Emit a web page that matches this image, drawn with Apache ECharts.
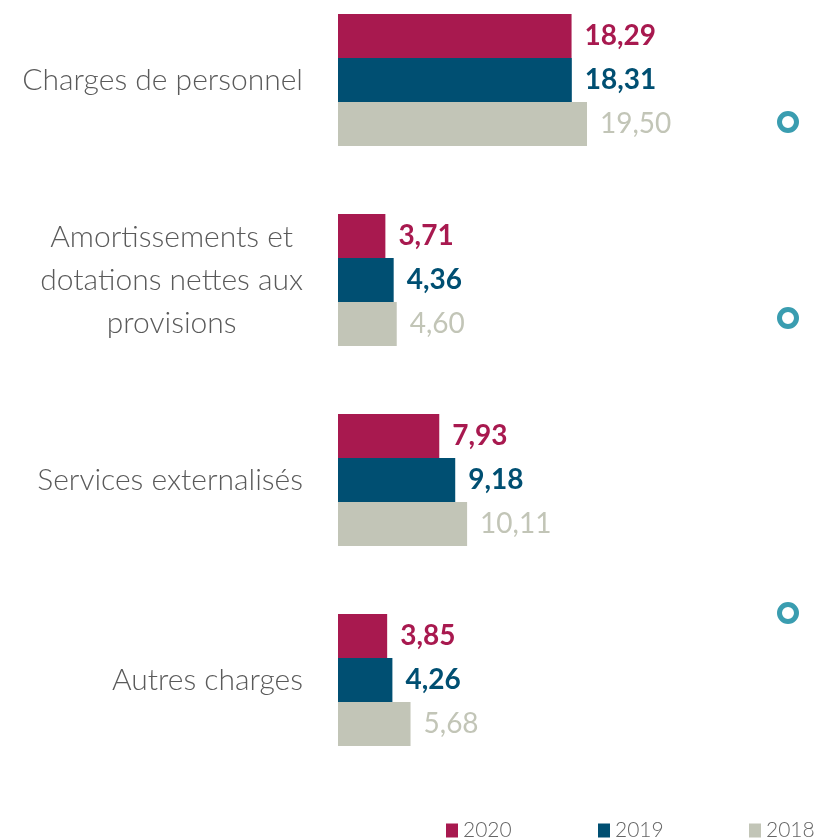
<!DOCTYPE html>
<html>
<head>
<meta charset="utf-8">
<script src="https://cdn.jsdelivr.net/npm/echarts@6/dist/echarts.min.js"></script>
<style>
  html, body { margin: 0; padding: 0; background: #fff; }
  #chart { width: 815px; height: 840px; }
</style>
</head>
<body>
<div id="chart"></div>
<script>
// categories, top to bottom
const categories = [
  "Charges de personnel",
  "Amortissements et\ndotations nettes aux\nprovisions",
  "Services externalisés",
  "Autres charges"
];
const years = ["2020", "2019", "2018"];
const values2020 = [18.29, 3.71, 7.93, 3.85];
const values2019 = [18.31, 4.36, 9.18, 4.26];
const values2018 = [19.50, 4.60, 10.11, 5.68];
const colors = ["#a8194f", "#004f72", "#c2c5b7"];

const FONT = "Lato, 'Open Sans', sans-serif";

function seriesFor(i, data) {
  return {
    name: years[i],
    type: "bar",
    data: data,
    barWidth: 44,
    barGap: "0%",
    itemStyle: { color: colors[i] },
    label: {
      show: true,
      position: "right",
      distance: 13,
      color: colors[i],
      fontFamily: FONT,
      fontSize: 28,
      fontWeight: i < 2 ? "bold" : "normal",
      formatter: p => p.value.toFixed(2).replace(".", ",")
    }
  };
}

// one legend per year so the last one can run off the right edge like the original
const legendLeft = [441, 593, 744];

const chart = echarts.init(document.getElementById("chart"));
chart.setOption({
  animation: false,
  grid: { left: 338, top: -20, width: 255.4, height: 800, outerBoundsMode: "none", containLabel: false },
  xAxis: { type: "value", min: 0, max: 20, show: false },
  yAxis: {
    type: "category",
    inverse: true,
    data: categories,
    axisLine: { show: false },
    axisTick: { show: false },
    splitLine: { show: false },
    axisLabel: {
      margin: 35,
      align: "right",
      color: "#5a5a5a",
      fontFamily: FONT,
      fontSize: 30,
      fontWeight: 300,
      lineHeight: 43,
      formatter: v => v.split("\n").map(s => "{c|" + s + "}").join("\n"),
      rich: {
        c: { align: "center", fontFamily: FONT, fontSize: 30, fontWeight: 300, lineHeight: 43, color: "#5a5a5a" }
      }
    }
  },
  legend: years.map((y, i) => ({
    left: legendLeft[i],
    top: 815,
    width: 200,
    icon: "rect",
    itemWidth: 12,
    itemHeight: 14,
    textStyle: { color: "#666", fontFamily: FONT, fontSize: 21, fontWeight: 300 },
    data: [y]
  })),
  graphic: [122, 318, 613].map(y => ({
    type: "circle",
    shape: { cx: 788, cy: y, r: 8.5 },
    style: { fill: "none", stroke: "#3a9db0", lineWidth: 5 }
  })),
  series: [
    seriesFor(0, values2020),
    seriesFor(1, values2019),
    seriesFor(2, values2018)
  ]
});
</script>
</body>
</html>
